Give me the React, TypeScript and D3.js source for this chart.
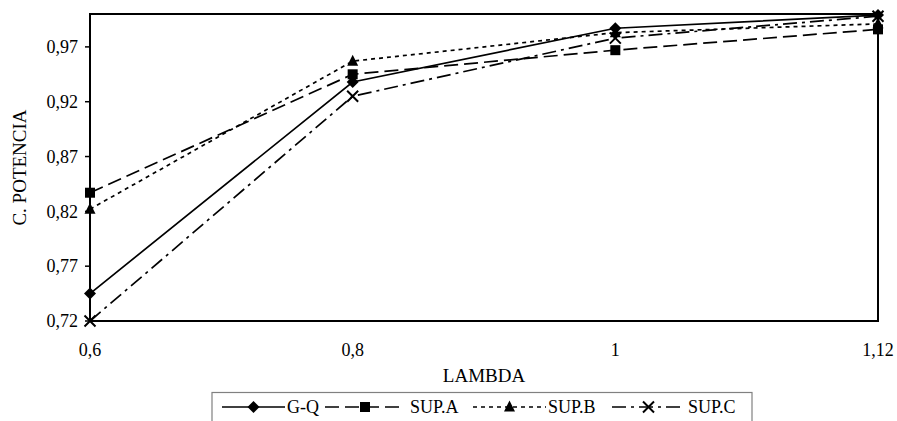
import React from "react";
import * as d3 from "d3";

const categories = ["0,6", "0,8", "1", "1,12"];
const seriesNames = ["G-Q", "SUP.A", "SUP.B", "SUP.C"];
const gq = [0.745, 0.938, 0.987, 0.999];
const supA = [0.837, 0.945, 0.967, 0.986];
const supB = [0.822, 0.957, 0.983, 0.991];
const supC = [0.72, 0.925, 0.978, 0.998];
const yTicks = [0.72, 0.77, 0.82, 0.87, 0.92, 0.97];

const W = 897, H = 421;
const L = 90, R = 878, T = 14, B = 321;
const font = "'Liberation Serif', 'Times New Roman', serif";

const dashes = ["", "14,6", "4,4", "14,5,3,5"];
const markerKinds = ["diamond", "square", "triangle", "x"];

function Marker({ kind, x, y }: { kind: string; x: number; y: number }) {
  if (kind === "diamond") {
    const s = 6;
    return <path d={`M${x},${y - s}L${x + s},${y}L${x},${y + s}L${x - s},${y}Z`} fill="#000" />;
  }
  if (kind === "square") {
    const s = 5;
    return <rect x={x - s} y={y - s} width={2 * s} height={2 * s} fill="#000" />;
  }
  if (kind === "triangle") {
    return <path d={`M${x},${y - 6.5}L${x + 5.5},${y + 4.5}L${x - 5.5},${y + 4.5}Z`} fill="#000" />;
  }
  const s = 5.5;
  return (
    <path d={`M${x - s},${y - s}L${x + s},${y + s}M${x - s},${y + s}L${x + s},${y - s}`} stroke="#000" strokeWidth={2} />
  );
}

export default function App() {
  const data = [gq, supA, supB, supC];
  const x = d3.scalePoint<string>().domain(categories).range([L, R]);
  const y = d3.scaleLinear().domain([0.72, 1.0]).range([B, T]);
  const line = d3
    .line<number>()
    .x((_, i) => x(categories[i])!)
    .y((d) => y(d));

  const fmt = (v: number) => v.toFixed(2).replace(".", ",");

  const legY = 407;
  const legItems = [
    { x0: 222, x1: 285, tx: 287 },
    { x0: 325, x1: 405, tx: 410 },
    { x0: 473, x1: 546, tx: 548 },
    { x0: 612, x1: 685, tx: 688 },
  ];

  return (
    <svg width={W} height={H} style={{ position: "absolute", left: 0, top: 0, background: "#fff" }}>
      <rect x={0} y={0} width={W} height={H} fill="#fff" />
      {data.map((s, i) => (
        <path key={i} d={line(s)!} fill="none" stroke="#000" strokeWidth={1.7} strokeDasharray={dashes[i]} />
      ))}
      <rect x={L} y={T} width={R - L} height={B - T} fill="none" stroke="#000" strokeWidth={2} />
      {yTicks.map((t) => (
        <g key={t}>
          <line x1={L - 5} x2={L} y1={y(t)} y2={y(t)} stroke="#000" strokeWidth={1.5} />
          <text x={L - 12} y={y(t)} dy="0.35em" textAnchor="end" fontFamily={font} fontSize={18}>
            {fmt(t)}
          </text>
        </g>
      ))}
      {categories.map((c) => (
        <text key={c} x={x(c)} y={356} textAnchor="middle" fontFamily={font} fontSize={18}>
          {c}
        </text>
      ))}
      {data.map((s, i) =>
        s.map((v, j) => <Marker key={`${i}-${j}`} kind={markerKinds[i]} x={x(categories[j])!} y={y(v)} />)
      )}
      <text x={(L + R) / 2} y={382} textAnchor="middle" fontFamily={font} fontSize={19}>
        LAMBDA
      </text>
      <text
        transform={`translate(26,${(T + B) / 2}) rotate(-90)`}
        textAnchor="middle"
        fontFamily={font}
        fontSize={19}
      >
        C. POTENCIA
      </text>
      <rect x={212} y={392.5} width={540} height={40} fill="none" stroke="#808080" strokeWidth={1.2} />
      {legItems.map((it, i) => (
        <g key={i}>
          <line x1={it.x0} x2={it.x1} y1={legY} y2={legY} stroke="#000" strokeWidth={1.7} strokeDasharray={dashes[i]} />
          <Marker kind={markerKinds[i]} x={(it.x0 + it.x1) / 2} y={legY} />
          <text x={it.tx} y={legY} dy="0.35em" fontFamily={font} fontSize={18}>
            {seriesNames[i]}
          </text>
        </g>
      ))}
    </svg>
  );
}
